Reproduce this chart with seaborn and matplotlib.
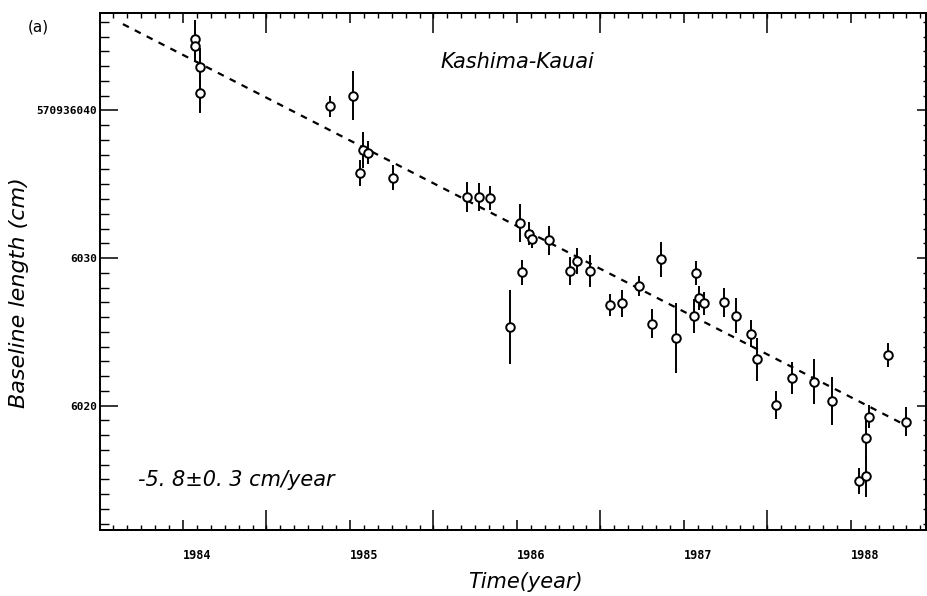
import matplotlib
matplotlib.use("Agg")
import matplotlib.pyplot as plt
from matplotlib.ticker import MultipleLocator
import seaborn as sns

# baseline length in cm (full value), epoch in decimal years
years = [1984.07, 1984.07, 1984.10, 1984.10, 1984.88, 1985.02, 1985.06, 1985.08,
         1985.11, 1985.26, 1985.70, 1985.77, 1985.84, 1985.96, 1986.02, 1986.03,
         1986.07, 1986.09, 1986.19, 1986.32, 1986.36, 1986.44, 1986.56, 1986.63,
         1986.73, 1986.81, 1986.86, 1986.95, 1987.06, 1987.07, 1987.09, 1987.12,
         1987.24, 1987.31, 1987.40, 1987.44, 1987.55, 1987.65, 1987.78, 1987.89,
         1988.05, 1988.09, 1988.09, 1988.11, 1988.22, 1988.33]
length_cm = [570936044.83, 570936044.35, 570936042.93, 570936041.16, 570936040.29,
             570936041.00, 570936035.76, 570936037.33, 570936037.14, 570936035.44,
             570936034.15, 570936034.15, 570936034.06, 570936025.31, 570936032.36,
             570936029.05, 570936031.65, 570936031.27, 570936031.20, 570936029.12,
             570936029.80, 570936029.12, 570936026.80, 570936026.92, 570936028.10,
             570936025.56, 570936029.91, 570936024.58, 570936026.10, 570936029.00,
             570936027.30, 570936026.92, 570936027.00, 570936026.10, 570936024.88,
             570936023.15, 570936020.05, 570936021.86, 570936021.63, 570936020.32,
             570936014.88, 570936015.24, 570936017.78, 570936019.25, 570936023.45,
             570936018.91]
errors_cm = [1.3, 1.0, 1.3, 1.3, 0.7, 1.65, 0.9, 1.2, 0.8, 0.85,
             1.0, 0.95, 0.8, 2.5, 1.3, 0.85, 0.8, 0.6, 1.0, 0.95,
             0.85, 1.1, 0.75, 0.9, 0.7, 1.0, 1.2, 2.35, 1.15, 0.8,
             0.8, 0.8, 1.0, 1.2, 0.9, 1.45, 0.95, 1.1, 1.5, 1.6,
             0.9, 1.4, 1.5, 0.8, 0.8, 1.0]

# fitted trend (-5.8 cm/year)
fit_years = [1983.64, 1988.34]
fit_length = [570936045.85, 570936018.60]

year_ticks = [1984, 1985, 1986, 1987, 1988]
year_labels = ['1984', '1985', '1986', '1987', '1988']
half_year_ticks = [1984.5, 1985.5, 1986.5, 1987.5]
y_ticks = [570936020, 570936030, 570936040]
y_labels = ['6020', '6030', '570936040']

sns.set_style('ticks')
plt.rcParams['font.family'] = ['DejaVu Sans']
plt.rcParams.update({'text.color': 'black', 'axes.labelcolor': 'black',
                     'xtick.color': 'black', 'ytick.color': 'black',
                     'axes.edgecolor': 'black'})

fig = plt.figure(figsize=(9.28, 5.96), dpi=100)
ax = fig.add_axes([0.1078, 0.1107, 0.890, 0.8674])

ax.errorbar(years, length_cm, yerr=errors_cm, fmt='none', ecolor='black',
            elinewidth=1.4, capsize=0, zorder=2)
sns.lineplot(x=fit_years, y=fit_length, ax=ax, color='black', linewidth=1.6,
             linestyle=(0, (3, 3)), zorder=1)
sns.scatterplot(x=years, y=length_cm, ax=ax, marker='o', s=38, color='white',
                edgecolor='black', linewidth=1.4, zorder=3)

ax.set_xlim(1983.503, 1988.45)
ax.set_ylim(570936011.57, 570936046.6)

# x axis: year ticks (labels left-aligned), monthly minor ticks
ax.set_xticks(year_ticks, year_labels)
ax.xaxis.set_minor_locator(MultipleLocator(1 / 12))
ax.tick_params(axis='x', which='major', direction='in', length=7.2, width=1.1,
               top=True, bottom=True, pad=13.5)
ax.tick_params(axis='x', which='minor', direction='in', length=3.6, width=1.0,
               top=True, bottom=True)
for lab in ax.get_xticklabels():
    lab.set_horizontalalignment('left')
    lab.set_fontfamily('DejaVu Sans Mono')
    lab.set_fontweight('bold')
    lab.set_fontsize(8.5)

# y axis
ax.set_yticks(y_ticks, y_labels)
ax.yaxis.set_minor_locator(MultipleLocator(1))
ax.tick_params(axis='y', which='major', direction='in', length=13, width=1.1,
               left=True, right=False, pad=2)
ax.tick_params(axis='y', which='minor', direction='in', length=6.5, width=1.0,
               left=True, right=False)
for lab in ax.get_yticklabels():
    lab.set_fontfamily('DejaVu Sans Mono')
    lab.set_fontweight('bold')
    lab.set_fontsize(8)

# long half-year ticks on top and bottom
for loc in ['bottom', 'top']:
    sec = ax.secondary_xaxis(loc)
    sec.set_xticks(half_year_ticks)
    sec.tick_params(axis='x', direction='in', length=14.4, width=1.1,
                    labelbottom=False, labeltop=False)
    sec.spines[loc].set_linewidth(1.4)

# right axis: shorter ticks
secy = ax.secondary_yaxis('right')
secy.set_yticks(y_ticks)
secy.yaxis.set_minor_locator(MultipleLocator(1))
secy.tick_params(axis='y', which='major', direction='in', length=6.5, width=1.1,
                 labelright=False)
secy.tick_params(axis='y', which='minor', direction='in', length=2.2, width=1.0)
secy.spines['right'].set_linewidth(1.4)

for sp in ax.spines.values():
    sp.set_visible(True)
    sp.set_linewidth(1.4)

ax.set_xlabel('Time(year)', fontsize=15, style='italic')
ax.xaxis.set_label_coords(0.515, -0.082)
ax.set_ylabel('Baseline length (cm)', fontsize=16, style='italic')
ax.yaxis.set_label_coords(-0.086, 0.46)

ax.text(0.505, 0.905, 'Kashima-Kauai', transform=ax.transAxes, fontsize=15,
        style='italic', ha='center', va='center')
ax.text(0.046, 0.097, '-5. 8±0. 3 cm/year', transform=ax.transAxes, fontsize=15,
        style='italic', ha='left', va='center')
fig.text(0.041, 0.955, '(a)', fontsize=11, ha='center', va='center')

fig.savefig('out.png', dpi=100)
